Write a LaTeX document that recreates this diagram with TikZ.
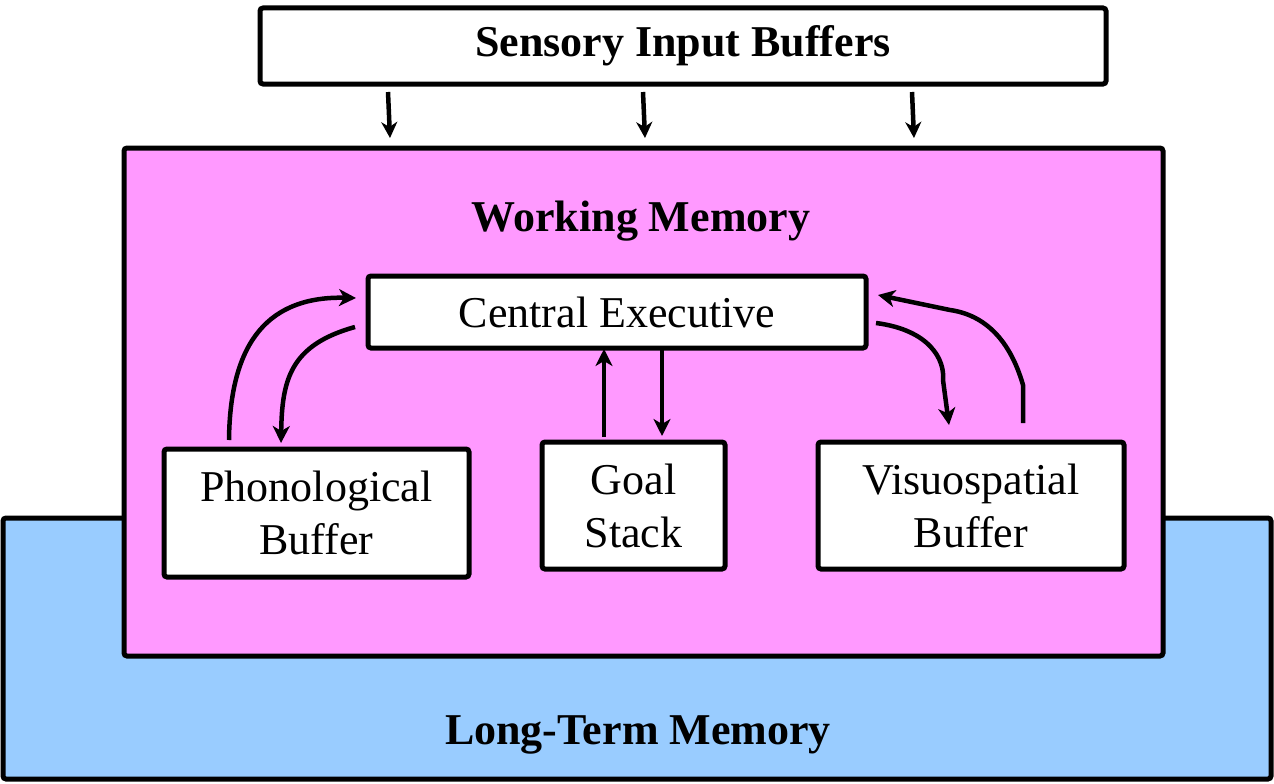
\documentclass[tikz,border=0pt]{standalone}
\usepackage{fontspec}
\setmainfont{Liberation Serif}
\usetikzlibrary{arrows.meta}
\definecolor{wmpink}{HTML}{FF99FF}
\definecolor{ltmblue}{HTML}{99CCFF}
\begin{document}
\begin{tikzpicture}[x=1pt,y=-1pt,
  box/.style={draw=black, line width=5pt, rounded corners=3pt, inner sep=0pt, fill=white, align=center,
    font=\fontsize{44}{53}\selectfont},
  title/.style={font=\fontsize{44}{48}\selectfont\bfseries},
  conn/.style={line width=4.5pt, -{Stealth[length=17pt,width=17pt,inset=5pt]}}
]
\useasboundingbox (0,0) rectangle (1274,784);
% Long-term memory
\node[box, fill=ltmblue, minimum width=1268pt, minimum height=261pt] (ltm) at (637,648.5) {};
\node[title] (ltmlabel) at (638,735) {Long-Term Memory};
% Working memory
\node[box, fill=wmpink, minimum width=1039pt, minimum height=508pt] (wm) at (643.5,402) {};
\node[title] (wmlabel) at (641,221) {Working Memory};
% Sensory input
\node[box, minimum width=846pt, minimum height=76pt, font=\fontsize{44}{48}\selectfont\bfseries] (sib) at (683,46) {Sensory Input Buffers};
% Inner boxes
\node[box, minimum width=498pt, minimum height=72pt] (ce) at (617,312) {Central Executive};
\node[box, minimum width=305pt, minimum height=128pt] (pb) at (316.5,513) {Phonological\\Buffer};
\node[box, minimum width=183pt, minimum height=127pt] (gs) at (633.5,505.5) {Goal\\Stack};
\node[box, minimum width=306pt, minimum height=127pt] (vb) at (971,505.5) {Visuospatial\\Buffer};
% Sensory arrows
\foreach \x/\n in {388/a,643/b,912/c} {
  \coordinate (s\n) at (\x,92);
  \coordinate (w\n) at (\x+2,138);
  \draw[conn, -{Stealth[length=16pt,width=16pt,inset=5pt]}] (s\n) -- (w\n);
}
% Phonological arrows
\coordinate (pbout) at (229,440);
\coordinate (cein1) at (356,298);
\coordinate (ceout1) at (355,327);
\coordinate (pbin) at (281,443);
\draw[conn] (pbout) .. controls (230,340) and (270,296) .. (cein1);
\draw[conn] (ceout1) .. controls (290,345) and (282,380) .. (pbin);
% Goal stack arrows
\coordinate (gsout) at (604,437);
\coordinate (cein2) at (604,349);
\coordinate (ceout2) at (662,349);
\coordinate (gsin) at (662,436);
\draw[conn] (gsout) -- (cein2);
\draw[conn] (ceout2) -- (gsin);
% Visuospatial arrows
\coordinate (ceout3) at (876,323);
\coordinate (vbin) at (949,425);
\coordinate (vbout) at (1023,423);
\coordinate (cein3) at (878,295);
\draw[conn] (ceout3) .. controls (930,330) and (945,360) .. (943,380) -- (vbin);
\draw[conn] (vbout) -- (1023,385) .. controls (1010,340) and (985,315) .. (950,310) -- (cein3);
\end{tikzpicture}
\end{document}
